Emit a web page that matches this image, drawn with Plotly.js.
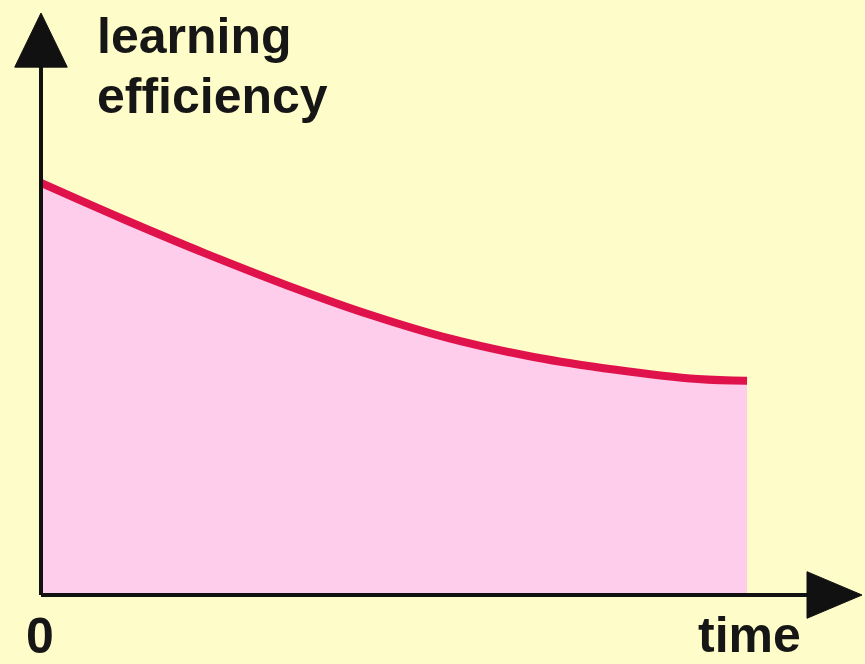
<!DOCTYPE html>
<html>
<head>
<meta charset="utf-8">
<script src="https://cdn.plot.ly/plotly-3.0.1.min.js"></script>
<style>html,body{margin:0;padding:0;background:#FEFCC8;}#chart{width:865px;height:664px;}</style>
</head>
<body>
<div id="chart"></div>
<script>
// Data (arbitrary units)
const time = [0, 1, 2, 3, 4, 5, 6, 7, 8, 8.6];
const learningEfficiency = [7.08, 6.46, 5.87, 5.32, 4.82, 4.40, 4.09, 3.87, 3.71, 3.68];
const yLabelLines = ["learning", "efficiency"];
const xLabel = "time";
const originLabel = "0";

const bg = "#FEFCC8";
const fillPink = "#FDCDEB";
const lineRed = "#E0124C";
const axisColor = "#111111";
const font = "Liberation Sans, Arial, sans-serif";

const traces = [{
  x: time, y: learningEfficiency, type: "scatter", mode: "lines",
  line: {color: lineRed, width: 8, shape: "spline", smoothing: 1},
  fill: "tozeroy", fillcolor: fillPink, hoverinfo: "skip"
}];

const shapes = [
  {type: "line", xref: "x", yref: "y", x0: 0, y0: 0, x1: 0, y1: 9.2, line: {color: axisColor, width: 4}},
  {type: "line", xref: "x", yref: "y", x0: 0, y0: 0, x1: 9.4, y1: 0, line: {color: axisColor, width: 4}},
  {type: "path", xref: "x", yref: "y", path: "M -0.32,9.07 L 0,10 L 0.32,9.07 Z", fillcolor: axisColor, line: {color: axisColor, width: 1}},
  {type: "path", xref: "x", yref: "y", path: "M 9.33,-0.40 L 10,0 L 9.33,0.40 Z", fillcolor: axisColor, line: {color: axisColor, width: 1}}
];

const yFont = {family: font, size: 50, color: "#161616", weight: "bold"};
const xFont = {family: font, size: 50, color: "#161616", weight: "bold"};
const annotations = [
  {xref: "x", yref: "y", x: 0.66, y: 9.6, text: yLabelLines[0], showarrow: false, xanchor: "left", yanchor: "middle", font: yFont},
  {xref: "x", yref: "y", x: 0.66, y: 8.57, text: yLabelLines[1], showarrow: false, xanchor: "left", yanchor: "middle", font: yFont},
  {xref: "x", yref: "y", x: -0.01, y: -0.70, text: originLabel, showarrow: false, xanchor: "center", yanchor: "middle", font: xFont, borderpad: 0},
  {xref: "x", yref: "y", x: 8.63, y: -0.68, text: xLabel, showarrow: false, xanchor: "center", yanchor: "middle", font: xFont, borderpad: 0}
];

const layout = {
  width: 865, height: 664,
  margin: {l: 0, r: 0, t: 0, b: 0},
  paper_bgcolor: bg, plot_bgcolor: bg,
  showlegend: false,
  xaxis: {range: [-0.4994, 10.0365], visible: false, fixedrange: true},
  yaxis: {range: [-1.1856, 10.2234], visible: false, fixedrange: true},
  shapes: shapes, annotations: annotations
};

Plotly.newPlot("chart", traces, layout, {staticPlot: true, displayModeBar: false});
</script>
</body>
</html>
